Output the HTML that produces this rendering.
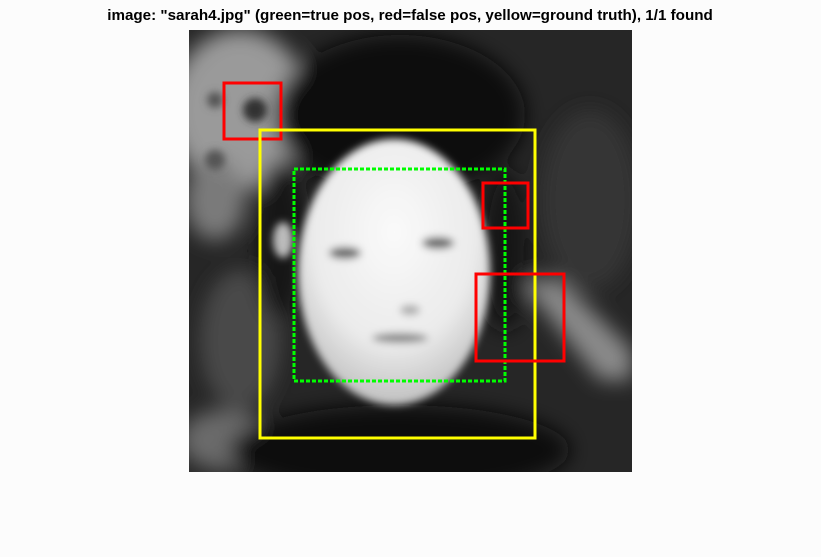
<!DOCTYPE html>
<html><head><meta charset="utf-8">
<style>
html,body{margin:0;padding:0;background:#fcfcfc;}
svg{display:block;}
</style></head>
<body>
<svg id="chart" width="821" height="557" viewBox="0 0 821 557" xmlns="http://www.w3.org/2000/svg">
  <defs>
    <filter id="blur8" x="-50%" y="-50%" width="200%" height="200%"><feGaussianBlur stdDeviation="10"/></filter>
    <filter id="blur4" x="-50%" y="-50%" width="200%" height="200%"><feGaussianBlur stdDeviation="4"/></filter>
    <radialGradient id="faceGrad" cx="0.5" cy="0.35" r="0.65">
      <stop offset="0" stop-color="#fafafa"/>
      <stop offset="0.65" stop-color="#ebebeb"/>
      <stop offset="1" stop-color="#c0c0c0"/>
    </radialGradient>
    <clipPath id="photoClip"><rect x="189" y="30" width="443" height="442"/></clipPath>
  </defs>
  <text x="410" y="20" text-anchor="middle" font-family="Liberation Sans, sans-serif" font-weight="bold" font-size="15.2" fill="#000">image: "sarah4.jpg" (green=true pos, red=false pos, yellow=ground truth), 1/1 found</text>
  <g clip-path="url(#photoClip)">
    <rect x="189" y="30" width="443" height="442" fill="#262626"/>
    <g filter="url(#blur8)">
      <ellipse cx="240" cy="110" rx="70" ry="80" fill="#9a9a9a"/>
      <ellipse cx="215" cy="200" rx="30" ry="40" fill="#7a7a7a"/>
      <ellipse cx="240" cy="340" rx="40" ry="70" fill="#4a4a4a"/>
      <ellipse cx="225" cy="440" rx="45" ry="30" fill="#6a6a6a"/>
      <ellipse cx="590" cy="200" rx="50" ry="90" fill="#363636"/>
      <polygon points="520,280 560,280 632,350 632,380 600,380" fill="#8a8a8a"/>
      <ellipse cx="400" cy="115" rx="125" ry="80" fill="#101010"/>
      <ellipse cx="400" cy="450" rx="170" ry="45" fill="#0a0a0a"/>
      <ellipse cx="280" cy="240" rx="25" ry="80" fill="#131313"/>
      <ellipse cx="505" cy="250" rx="25" ry="80" fill="#181818"/>
    </g>
    <g filter="url(#blur4)">
      <ellipse cx="394" cy="272" rx="96" ry="133" fill="url(#faceGrad)"/>
      <ellipse cx="283" cy="240" rx="10" ry="18" fill="#bbbbbb"/>
      <circle cx="255" cy="110" r="12" fill="#333"/>
      <circle cx="215" cy="100" r="8" fill="#555"/>
      <circle cx="215" cy="160" r="10" fill="#555"/>
      <ellipse cx="345" cy="253" rx="16" ry="6" fill="#666"/>
      <ellipse cx="438" cy="243" rx="16" ry="6" fill="#666"/>
      <ellipse cx="400" cy="338" rx="28" ry="5" fill="#888"/>
      <ellipse cx="410" cy="310" rx="10" ry="5" fill="#aaa"/>
    </g>
  </g>
  <g id="boxes"></g>
</svg>
<script>
// Boxes in image-pixel coordinates (left, top, right, bottom)
const boxKinds = ['false-pos', 'ground-truth', 'true-pos', 'false-pos', 'false-pos'];
const boxLeft   = [224, 260, 294, 483, 476];
const boxTop    = [83, 130, 169, 183, 274];
const boxRight  = [281, 535, 505, 528, 564];
const boxBottom = [139, 438, 381, 228, 361];

const imgX0 = 0, imgY0 = 0;
function sx(v){ return v + imgX0; }
function sy(v){ return v + imgY0; }
const styles = {
  'false-pos': {stroke:'#ff0000', dash:null},
  'ground-truth': {stroke:'#ffff00', dash:null},
  'true-pos': {stroke:'#00ff00', dash:'4,2'}
};
const g = document.getElementById('boxes');
const NS = 'http://www.w3.org/2000/svg';
for (let i = 0; i < boxKinds.length; i++) {
  const r = document.createElementNS(NS, 'rect');
  r.setAttribute('x', sx(boxLeft[i]));
  r.setAttribute('y', sy(boxTop[i]));
  r.setAttribute('width', sx(boxRight[i]) - sx(boxLeft[i]));
  r.setAttribute('height', sy(boxBottom[i]) - sy(boxTop[i]));
  r.setAttribute('fill', 'none');
  r.setAttribute('stroke', styles[boxKinds[i]].stroke);
  r.setAttribute('stroke-width', '3');
  if (styles[boxKinds[i]].dash) r.setAttribute('stroke-dasharray', styles[boxKinds[i]].dash);
  
  
  g.appendChild(r);
}
</script>
</body></html>
